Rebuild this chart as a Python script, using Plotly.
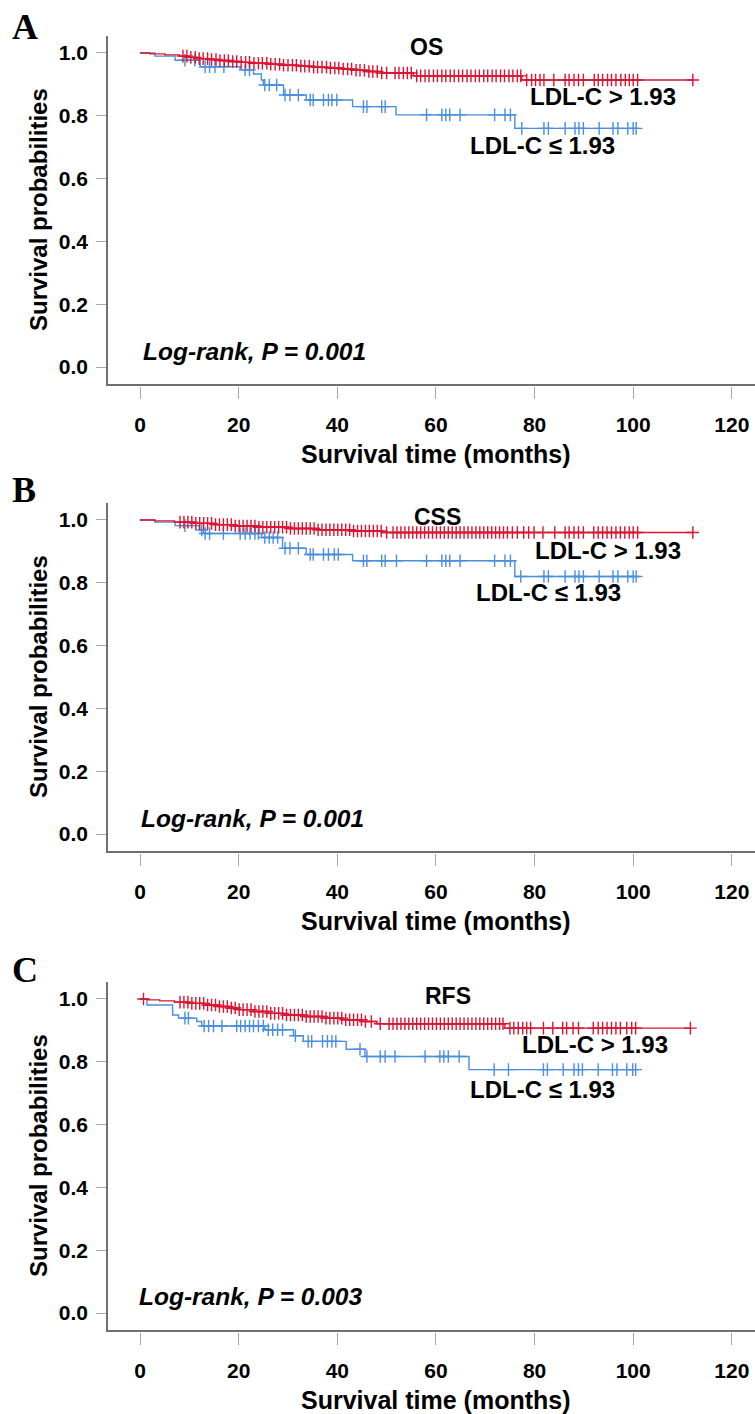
import plotly.graph_objects as go

# ---------------- data ----------------
panel_letters = ["A", "B", "C"]
panel_titles = ["OS", "CSS", "RFS"]
p_texts = ["Log-rank, P = 0.001", "Log-rank, P = 0.001", "Log-rank, P = 0.003"]
label_high = "LDL-C > 1.93"
label_low = "LDL-C \u2264 1.93"
x_ticks = [0, 20, 40, 60, 80, 100, 120]
y_ticks = [0.0, 0.2, 0.4, 0.6, 0.8, 1.0]

# OS
os_high_times = [2, 5, 8, 10, 12, 14, 16, 18, 20, 23, 26, 29, 32, 35, 38, 41, 43, 46, 49, 55.4, 77.4]
os_high_surv = [0.997, 0.994, 0.990, 0.986, 0.982, 0.979, 0.976, 0.973, 0.970, 0.967, 0.964,
                0.961, 0.958, 0.955, 0.952, 0.949, 0.945, 0.941, 0.936, 0.927, 0.914]
os_high_cens = [8.7, 9.5, 10.3, 11.2, 12.0, 12.8, 13.7, 14.5, 15.4, 16.2, 17.1, 17.9, 18.8, 19.6,
                20.5, 21.4, 22.2, 23.1, 24.0, 24.8, 25.7, 26.5, 27.4, 28.3, 29.1, 30.0, 30.9, 31.7,
                32.6, 33.4, 34.3, 35.2, 36.0, 36.9, 37.8, 38.6, 39.5, 40.3, 41.2, 42.1, 42.9, 43.8,
                44.6, 45.5, 46.4, 47.2, 48.1, 49.0, 50.0, 51.7, 52.5, 53.4, 54.2, 55.0, 56.1, 56.9,
                57.8, 58.6, 59.5, 60.3, 61.2, 62.0, 62.9, 63.7, 64.6, 65.4, 66.3, 67.1, 68.0, 68.8,
                69.7, 70.5, 71.4, 72.2, 73.1, 73.9, 74.8, 75.6, 76.5, 77.2, 78.4, 79.4, 80.2, 81.1,
                81.9, 83.9, 86.2, 87.0, 88.0, 88.9, 89.9, 92.1, 92.9, 93.8, 94.8, 95.6, 96.5, 97.5,
                98.4, 99.2, 100.0, 100.9, 112.1]
os_low_times = [3.0, 7.1, 12.2, 20.3, 23.0, 24.6, 25.0, 29.1, 33.7, 43.1, 51.9, 76.0]
os_low_surv = [0.990, 0.977, 0.956, 0.946, 0.933, 0.914, 0.898, 0.866, 0.850, 0.829, 0.803, 0.760]
os_low_cens = [9.1, 11.1, 13.2, 14.1, 15.2, 17.0, 21.3, 22.2, 25.3, 26.2, 27.7, 29.4, 30.4, 32.1,
               34.5, 35.1, 37.2, 38.2, 38.9, 39.9, 45.3, 46.0, 49.0, 49.7, 58.1, 61.2, 62.0, 62.8,
               64.9, 71.9, 74.0, 75.1, 77.4, 81.9, 82.8, 86.2, 88.2, 89.0, 89.9, 93.1, 95.9, 96.9,
               98.9, 100.0, 100.6]

# CSS
css_high_times = [3, 7, 11, 15, 19, 24, 30, 36, 43, 49]
css_high_surv = [0.997, 0.993, 0.989, 0.985, 0.981, 0.977, 0.973, 0.969, 0.965, 0.960]
css_high_cens = [8.1, 8.9, 9.7, 10.5, 11.3, 12.1, 12.9, 13.7, 14.5, 15.3, 16.1, 16.9, 17.7, 18.5,
                 19.3, 20.1, 20.9, 21.7, 22.5, 23.3, 24.1, 24.9, 25.7, 26.5, 27.3, 28.1, 28.9, 29.7,
                 30.5, 31.3, 32.1, 32.9, 33.7, 34.5, 35.3, 36.1, 36.9, 37.7, 38.5, 39.3, 40.1, 40.9,
                 41.7, 42.5, 43.3, 44.1, 44.9, 45.7, 46.5, 47.3, 48.1, 48.9, 50.0, 51.3, 52.1, 52.9,
                 53.7, 54.5, 55.3, 56.1, 56.9, 57.7, 58.5, 59.3, 60.1, 60.9, 61.7, 62.5, 63.3, 64.1,
                 64.9, 65.7, 66.5, 67.3, 68.1, 68.9, 69.7, 70.5, 71.3, 72.1, 72.9, 73.7, 74.5, 75.5,
                 76.5, 77.8, 78.8, 79.9, 81.7, 84.1, 86.2, 87.0, 88.0, 88.9, 89.9, 92.0, 92.9, 93.8,
                 94.7, 95.6, 96.5, 97.4, 98.3, 99.2, 100.0, 100.9, 112.1]
css_low_times = [3.0, 7.1, 12.0, 12.8, 24.7, 28.9, 33.7, 43.1, 76.0]
css_low_surv = [0.993, 0.982, 0.968, 0.957, 0.944, 0.910, 0.890, 0.870, 0.820]
css_low_cens = [9.1, 12.5, 13.2, 14.1, 16.9, 20.3, 21.3, 22.3, 23.3, 24.0, 25.3, 26.2, 27.0, 27.9,
                29.4, 30.4, 32.1, 34.5, 35.1, 37.2, 38.2, 39.4, 40.2, 45.3, 46.0, 49.0, 49.7, 52.0,
                58.1, 61.2, 62.0, 62.8, 64.9, 71.9, 74.0, 75.1, 77.2, 81.9, 82.8, 86.2, 88.2, 89.0,
                89.9, 93.1, 95.9, 96.9, 98.9, 100.0, 100.6]

# RFS
rfs_high_times = [1.5, 4, 7, 10, 13, 16, 18, 20, 23, 26, 29, 33, 37, 41, 45, 48, 74.0]
rfs_high_surv = [0.997, 0.994, 0.990, 0.986, 0.981, 0.976, 0.971, 0.966, 0.960, 0.954, 0.949,
                 0.944, 0.939, 0.934, 0.928, 0.921, 0.907]
rfs_high_cens = [0.7, 8.1, 8.9, 9.7, 10.5, 11.3, 12.1, 12.9, 13.7, 14.5, 15.3, 16.1, 16.9, 17.7,
                 18.5, 19.3, 20.1, 20.9, 21.7, 22.5, 23.3, 24.1, 24.9, 25.7, 26.5, 27.3, 28.1, 28.9,
                 29.7, 30.5, 31.3, 32.1, 32.9, 33.7, 34.5, 35.3, 36.1, 36.9, 37.7, 38.5, 39.3, 40.1,
                 40.9, 41.7, 42.5, 43.3, 44.1, 44.9, 45.7, 46.9, 48.7, 50.5, 51.3, 52.1, 52.9, 53.7,
                 54.5, 55.3, 56.1, 56.9, 57.7, 58.5, 59.3, 60.1, 60.9, 61.7, 62.5, 63.3, 64.1, 64.9,
                 65.7, 66.5, 67.3, 68.1, 68.9, 69.7, 70.5, 71.3, 72.1, 72.9, 73.6, 75.0, 75.8, 76.7,
                 77.6, 78.4, 79.2, 81.8, 83.7, 85.7, 86.5, 87.8, 88.9, 91.9, 92.9, 93.8, 94.7, 95.6,
                 96.5, 97.4, 98.7, 99.7, 100.5, 111.6]
rfs_low_times = [1.4, 6.6, 7.8, 11.5, 12.5, 25.3, 31.1, 33.1, 41.8, 45.6, 66.7]
rfs_low_surv = [0.981, 0.949, 0.939, 0.928, 0.914, 0.902, 0.883, 0.865, 0.840, 0.817, 0.775]
rfs_low_cens = [9.1, 9.8, 13.0, 13.9, 14.9, 16.6, 19.6, 20.4, 21.3, 22.2, 23.0, 24.0, 25.0, 26.0,
                26.9, 27.9, 28.9, 31.5, 34.1, 34.8, 37.0, 38.0, 38.9, 39.7, 44.6, 46.0, 48.7, 49.7,
                51.7, 57.8, 60.8, 61.6, 62.5, 64.7, 71.8, 74.7, 81.8, 82.6, 85.8, 88.0, 88.9, 89.7,
                92.9, 95.8, 96.7, 98.7, 99.9, 100.5]

panels = [
    (os_high_times, os_high_surv, os_high_cens, os_low_times, os_low_surv, os_low_cens),
    (css_high_times, css_high_surv, css_high_cens, css_low_times, css_low_surv, css_low_cens),
    (rfs_high_times, rfs_high_surv, rfs_high_cens, rfs_low_times, rfs_low_surv, rfs_low_cens),
]

# ---------------- style / layout ----------------
W, H = 755, 1414
RED = "#DC1432"
BLUE = "#4A8EE0"
FONT = "Liberation Sans, Arial, sans-serif"
AXIS_COL = "#707070"
TICK_COL = "#A8A8A8"

# pixel geometry of each panel: (top of y axis line, bottom frame line)
panel_px = [(36, 384), (503, 851), (982, 1330)]
x_left_px, x_right_px = 108, 755
x_range = [-6.5, 124.7]
y_range = [-0.054, 1.054]

letter_pos = [(25, 27), (24, 490), (25, 970)]
title_pos = [(426, 47), (437, 517), (448, 996)]
high_pos = [(603, 96), (608, 550), (595, 1044)]
low_pos = [(542, 145), (548, 592), (542, 1089)]
p_pos = [(141, 352), (139, 818), (137, 1296)]


def px(xp):
    return xp / W


def py(yp):
    return 1 - yp / H


def surv_at(t, times, surv):
    s = 1.0
    for tt, ss in zip(times, surv):
        if t >= tt:
            s = ss
    return s


fig = go.Figure()
annotations = []

for i, (ht, hs, hc, lt, ls, lc) in enumerate(panels):
    xa = "x" if i == 0 else f"x{i+1}"
    ya = "y" if i == 0 else f"y{i+1}"
    for times, surv, cens, col in [(lt, ls, lc, BLUE), (ht, hs, hc, RED)]:
        end = max(cens)
        xs = [0] + list(times) + [end]
        ys = [1.0] + list(surv) + [surv[-1]]
        fig.add_trace(go.Scatter(x=xs, y=ys, mode="lines", line=dict(color=col, width=1.4, shape="hv"),
                                 xaxis=xa, yaxis=ya, showlegend=False, hoverinfo="skip"))
        fig.add_trace(go.Scatter(x=cens, y=[surv_at(c, times, surv) for c in cens], mode="markers",
                                 marker=dict(symbol="cross-thin", size=9, color=col,
                                             line=dict(color=col, width=1.4)),
                                 xaxis=xa, yaxis=ya, showlegend=False, hoverinfo="skip"))
    # dummy trace for the detached tick axis
    tx = f"x{i+4}"
    fig.add_trace(go.Scatter(x=[None], y=[None], xaxis=tx, yaxis=ya, showlegend=False, hoverinfo="skip"))

    top, bot = panel_px[i]
    dom_y = [py(bot), py(top)]
    dom_x = [px(x_left_px), px(x_right_px)]
    xkey = "xaxis" if i == 0 else f"xaxis{i+1}"
    ykey = "yaxis" if i == 0 else f"yaxis{i+1}"
    fig.layout[xkey] = dict(domain=dom_x, range=x_range, anchor=ya, showline=True, linecolor=AXIS_COL,
                            linewidth=1.5, ticks="", showticklabels=False, showgrid=False, zeroline=False,
                            automargin=False)
    fig.layout[ykey] = dict(domain=dom_y, range=y_range, anchor=xa, showline=True, linecolor=AXIS_COL,
                            linewidth=1.5, ticks="outside", ticklen=10, tickwidth=1, tickcolor=TICK_COL,
                            tickvals=y_ticks, tickformat=".1f", showgrid=False, zeroline=False,
                            tickfont=dict(family=FONT, size=21, color="black", weight="bold"),
                            ticklabelstandoff=4, automargin=False)
    fig.layout[f"xaxis{i+4}"] = dict(overlaying=xa, anchor="free", position=py(bot + 2), domain=dom_x,
                                     range=x_range, showline=False, ticks="outside", ticklen=12,
                                     tickwidth=1, tickcolor=TICK_COL, tickvals=x_ticks, showgrid=False,
                                     zeroline=False, automargin=False,
                                     tickfont=dict(family=FONT, size=21, color="black", weight="bold"),
                                     ticklabelstandoff=8)

    def ann(text, pos, size, xanchor="center", italic=False, family=FONT, angle=0):
        annotations.append(dict(text=text, x=px(pos[0]), y=py(pos[1]), xref="paper", yref="paper",
                                xanchor=xanchor, yanchor="middle", showarrow=False, textangle=angle,
                                font=dict(family=family, size=size, color="black", weight="bold",
                                          style="italic" if italic else "normal")))

    ann(panel_letters[i], letter_pos[i], 36, family="Liberation Serif, Times New Roman, serif")
    ann(panel_titles[i], title_pos[i], 23)
    ann(label_high, high_pos[i], 24)
    ann(label_low, low_pos[i], 24)
    ann(p_texts[i], p_pos[i], 24.5, xanchor="left", italic=True)
    ann("Survival probabilities", (38, (top + bot) / 2), 24, angle=-90)
    ann("Survival time (months)", (436, bot + 70), 25)

fig.update_layout(width=W, height=H, margin=dict(l=0, r=0, t=0, b=0, autoexpand=False),
                  paper_bgcolor="white", plot_bgcolor="white", showlegend=False, annotations=annotations)

fig.write_html("out.html", config={"displayModeBar": False},
               post_script="document.body.style.margin='0';document.body.style.padding='0';"
                           "document.body.style.overflow='hidden';")
